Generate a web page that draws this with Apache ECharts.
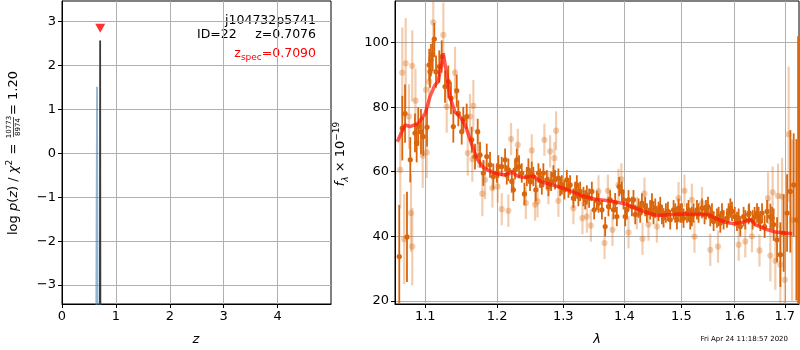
<!DOCTYPE html>
<html><head><meta charset="utf-8">
<script src="https://cdn.jsdelivr.net/npm/echarts@6/dist/echarts.min.js"></script>
<style>html,body{margin:0;padding:0;background:#fff}#c{width:800px;height:350px}</style>
</head><body><div id="c"></div>
<script>
// ---------- left panel: log p(z) ----------
const zTicks = [0, 1, 2, 3, 4];
const logpTicks = [-3, -2, -1, 0, 1, 2, 3];
const zBlue = [0.636, 0.650, 0.661];
const logpBlue = [-3.6, 1.52, -3.6];
const zBlack = [0.703, 0.7076, 0.712];
const logpBlack = [-3.6, 2.57, -3.6];
const zSpec = [0.709];
const zSpecMark = [2.85];

// ---------- right panel: spectrum ----------
const lamTicks = [1.1, 1.2, 1.3, 1.4, 1.5, 1.6, 1.7];
const fluxTicks = [20, 40, 60, 80, 100];

const lamDark = [1.0659,1.0759,1.0802,1.0698,1.0734,1.0864,1.0907,1.0943,1.0973,1.1023,1.0886,1.1053,1.1076,1.1099,1.1121,1.1063,1.1144,1.1188,1.1221,1.1266,1.1311,1.1348,1.1427,1.1380,1.1449,1.1496,1.1518,1.1566,1.1721,1.1636,1.1683,1.1754,1.1801,1.1850,1.1897,1.1945,
1.2018,1.2116,1.2164,1.2215,1.2238,1.2289,1.2323,1.2403,1.2463,1.2514,1.2575,1.2641,1.2691,1.2769,1.2846,1.2873,1.2924,1.2978,1.3057,1.3109,1.3161,1.3216,1.3269,1.3322,1.3377,1.3458,1.3496,
1.3567,1.3623,1.3677,1.3732,1.3815,1.3872,1.3911,1.3957,1.4013,1.4069,1.4127,1.4184,1.4241,1.4299,1.4386,1.4474,1.4532,1.4590,1.4650,1.4721,1.4798,1.4858,1.4919,1.4979,1.5039,1.5101,1.5161,1.5222,
1.5315,1.5378,1.5453,1.5533,1.5596,1.5660,1.5723,1.5786,1.5882,1.5947,1.6044,1.6109,1.6173,1.6272,1.6351,1.6438,1.6504,1.6590,1.6639,1.6705,1.6772,1.6841,1.6909,1.6977,1.7047,1.7115,1.7184,1.7240,1.7276,
1.1995,1.2067,1.2141,1.2263,1.2363,1.2439,1.2488,1.2538,1.2615,1.2667,1.2744,1.2810,1.2951,1.3019,1.3082,1.3189,1.3241,1.3350,1.3414,
1.3540,1.3760,1.3844,1.3984,1.4042,1.4154,1.4270,1.4357,1.4444,1.4502,1.4620,1.4679,1.4757,1.4888,1.4948,1.5010,1.5130,1.5191,
1.5285,1.5426,1.5490,1.5565,1.5691,1.5755,1.5851,1.5915,1.6000,1.6077,1.6206,1.6282,1.6390,1.6470,1.6538,1.6740];
const fluxDark = [33.7,39.8,63.7,73.5,78.0,72.0,74.0,72.4,70.9,73.8,68.9,93.1,94.6,96.2,101.1,91.0,91.0,92.6,95.7,86.4,87.9,82.8,85.1,74.0,78.1,72.4,76.1,77.1,72.4,69.9,64.7,65.2,59.6,64.7,62.1,58.5,
61.6,63.7,60.6,57.0,54.4,63.7,61.6,53.1,60.6,59.6,54.4,58.0,59.6,55.4,59.0,57.5,58.0,55.9,57.5,55.9,51.8,55.9,53.9,52.3,52.8,53.9,48.2,
50.3,48.2,43.0,49.2,48.2,46.1,55.4,53.9,46.1,51.3,49.2,46.7,48.7,50.3,47.2,50.3,48.7,47.7,46.7,47.2,45.1,48.2,45.1,47.2,45.6,47.2,45.1,47.2,
47.2,48.7,48.2,46.1,44.6,45.6,44.1,45.1,47.2,47.7,44.6,43.0,46.1,46.7,45.1,47.2,44.6,43.0,47.7,46.1,43.6,38.9,34.3,41.0,47.2,53.9,55.9,45.1,45.0,
59.6,61.6,59.0,60.6,59.6,58.5,57.0,58.5,59.6,55.9,57.5,57.0,55.4,54.4,54.9,53.9,52.3,51.3,51.8,
51.1,51.3,50.4,51.3,48.2,51.3,47.2,49.2,48.2,46.7,49.2,45.7,47.7,47.2,48.7,47.2,48.2,46.1,
48.2,46.7,49.2,47.2,46.1,47.2,45.6,48.7,46.1,45.6,45.1,47.2,46.1,46.1,47.2,45.6];
const errDark = [16,14,7,10,9,6,6,7,6,6,6,5,5,5,5,5,5,5,5,5,5,5,5,5,4,4,4,4,4,4,4,4,4,4,4,4,
3.5,3.5,3.5,3.5,3.5,3.5,3.5,3.5,3.5,3.5,3.5,3,3,3,3,3,3,3,3,3,3,3,3,3,3,3,3,
3,3,3,3,3,3,3,3,3,3,3,3,3,3,3,3,3,3,3,3,3,3,3,3,3,3,3,3,
3,3,3,3,3,3,3,3,3,3,3,3,3,3,3,3,3,3.5,3.5,4,5,7,10,12,12,19,16,25,57,
3,3,3,3,3,3,3,3,3,3,3,3,3,3,3,3,3,3,3,
3,3,3,3,3,3,3,3,3,3,3,3,3,3,3,3,3,3,
3,3,3,3,3,3,3,3,3,3,3,3,3,3,3,3.5];

const lamLight = [1.0742,1.0698,1.0828,1.0785,1.0811,1.0828,1.0723,1.0672,1.1019,1.1107,1.1243,1.1053,1.1009,1.1403,1.1289,1.1659,1.1612,1.1580,1.1645,1.1787,1.1825,1.1931,1.1730,1.0870,1.0966,
1.2204,1.2304,1.2514,1.2707,1.2795,1.2888,1.2862,1.2067,1.2164,1.2424,1.2564,1.2602,1.2924,1.3161,1.3306,1.3377,1.3442,1.2769,1.2009,
1.3666,1.3722,1.3899,1.3799,1.4069,1.4309,1.4213,1.4344,1.4561,1.4414,1.4948,1.5056,1.5191,1.5239,1.3567,1.3948,
1.5378,1.5533,1.5679,1.6077,1.6206,1.6487,1.6705,1.6807,1.6659,1.6751,1.6862,1.6944,1.7080,1.6337,1.6909,1.7000,1.7150];
const fluxLight = [93.6,90.7,92.8,77.1,47.2,36.8,39.1,60.6,66.0,106.3,102.4,87.9,85.4,90.7,80.1,80.4,77.1,65.8,63.9,53.2,57.5,54.9,67.3,82.0,65.0,
70.1,68.3,66.6,69.9,66.3,72.7,64.2,48.4,47.9,50.3,49.8,50.8,51.0,48.7,45.6,46.1,43.3,54.9,55.4,
37.9,54.1,55.9,42.0,41.2,39.2,47.2,53.2,43.0,43.6,51.8,54.1,51.3,39.9,53.9,57.6,
50.3,35.8,36.8,37.4,38.4,35.6,34.0,32.4,51.8,53.6,52.5,52.3,71.6,40.0,31.2,26.5,45.0];
const errLight = [14,14,11,10,12,12,14,12,8,10,10,8,8,8,8,8,7,7,7,7,6,6,6,10,10,
5,5,5,5,5,6,5,5,5,5,5,5,5,5,5,5,5,5,5,
5,5,5,5,5,5,5,5,5,5,5,5,5,5,5,5,
5,5,5,5,5,5,8,9,8,8,10,12,21,5,12,14,25];

const lamModel = [1.0633,1.0733,1.0798,1.0907,1.1000,1.1063,1.1130,1.1174,1.1242,1.1287,1.1332,1.1400,1.1492,1.1560,1.1628,1.1720,1.1811,1.1952,1.2116,1.2214,1.2313,1.2413,1.2538,1.2640,1.2821,1.3000,1.3189,1.3350,1.3512,1.3732,1.4000,1.4184,1.4414,1.4589,1.4829,1.5000,1.5246,1.5501,1.5627,1.5819,1.6000,1.6142,1.6306,1.6404,1.6605,1.6808,1.7000,1.7151];
const fluxModel = [69.3,74.5,74.0,75.0,78.1,83.3,86.9,87.9,96.7,90.5,83.3,78.6,76.6,73.5,68.9,63.7,61.1,59.6,59.0,59.9,58.5,58.2,58.7,57.0,55.9,54.9,53.4,52.3,51.5,51.0,50.1,48.7,47.2,46.4,46.7,46.9,46.7,46.7,45.6,44.3,43.9,44.3,45.1,43.6,42.2,41.3,41.0,40.8];

const FONT = 'DejaVu Sans';
const zip2 = (a, b) => a.map((v, i) => [v, b[i]]);
const zip3 = (a, b, c) => a.map((v, i) => [v, b[i], c[i]]);
const minusFmt = v => (v < 0 ? '\u2212' + Math.abs(v) : String(v));

function errRender(color, lw, r) {
  return function (params, api) {
    const x = api.value(0), y = api.value(1), e = api.value(2);
    const p0 = api.coord([x, y + e]), p1 = api.coord([x, y - e]), c = api.coord([x, y]);
    const cs = params.coordSys;
    const top = Math.max(p0[1], cs.y), bot = Math.min(p1[1], cs.y + cs.height);
    const children = [];
    if (bot > top) children.push({type: 'line', shape: {x1: c[0], y1: top, x2: c[0], y2: bot}, style: {stroke: color, lineWidth: lw}});
    if (c[1] >= cs.y && c[1] <= cs.y + cs.height) children.push({type: 'circle', shape: {cx: c[0], cy: c[1], r: r}, style: {fill: color}});
    return {type: 'group', children: children};
  };
}

function axisBase(ticks, fmt) {
  return {
    axisLine: {show: true, onZero: false, lineStyle: {color: '#000', width: 1}},
    axisTick: {show: true, inside: false, length: 4, customValues: ticks, lineStyle: {color: '#000'}},
    axisLabel: {color: '#000', fontSize: 13, fontFamily: FONT, margin: 6, customValues: ticks, formatter: fmt},
    splitLine: {show: true, lineStyle: {color: '#b0b0b0', width: 1}}
  };
}

const chart = echarts.init(document.getElementById('c'), null, {renderer: 'canvas'});
chart.setOption({
  animation: false,
  backgroundColor: '#fff',
  grid: [
    {left: 62, top: 1, width: 269, height: 303, show: true, borderColor: '#000', borderWidth: 1, backgroundColor: 'transparent'},
    {left: 395, top: 1, width: 404, height: 303, show: true, borderColor: '#000', borderWidth: 1, backgroundColor: 'transparent'}
  ],
  xAxis: [
    Object.assign({type: 'value', gridIndex: 0, min: 0, max: 4.99}, axisBase(zTicks, v => String(v))),
    Object.assign({type: 'log', gridIndex: 1, min: 1.0604, max: 1.7295}, axisBase(lamTicks, v => Number(v).toFixed(1)))
  ],
  yAxis: [
    Object.assign({type: 'value', gridIndex: 0, min: -3.43, max: 3.47}, axisBase(logpTicks, minusFmt)),
    Object.assign({type: 'value', gridIndex: 1, min: 19.0, max: 112.9}, axisBase(fluxTicks, v => String(v)))
  ],
  series: [
    {type: 'line', xAxisIndex: 0, yAxisIndex: 0, data: zip2(zBlue, logpBlue), symbol: 'none', lineStyle: {color: 'rgba(70,130,180,0.6)', width: 1.8}},
    {type: 'line', xAxisIndex: 0, yAxisIndex: 0, data: zip2(zBlack, logpBlack), symbol: 'none', lineStyle: {color: '#3a3a3a', width: 1.8}},
    {type: 'scatter', xAxisIndex: 0, yAxisIndex: 0, data: zip2(zSpec, zSpecMark), symbol: 'triangle', symbolRotate: 180, symbolSize: [10, 9], itemStyle: {color: '#ff0000'}},
    {type: 'custom', xAxisIndex: 1, yAxisIndex: 1, data: zip3(lamLight, fluxLight, errLight), renderItem: errRender('rgba(217,102,12,0.33)', 2.2, 3.1)},
    {type: 'custom', xAxisIndex: 1, yAxisIndex: 1, data: zip3(lamDark, fluxDark, errDark), renderItem: errRender('rgb(217,102,12)', 1.8, 2.6)},
    {type: 'line', xAxisIndex: 1, yAxisIndex: 1, data: zip2(lamModel, fluxModel), symbol: 'none', smooth: false, lineStyle: {color: 'rgba(255,20,10,0.7)', width: 3.5}}
  ],
  graphic: [
    {type: 'text', x: 316, y: 21, style: {text: 'j104732p5741', font: '12.5px "DejaVu Sans"', fill: '#000', align: 'right', verticalAlign: 'middle'}},
    {type: 'text', x: 197, y: 34.5, style: {text: 'ID=22', font: '12.5px "DejaVu Sans"', fill: '#000', verticalAlign: 'middle'}},
    {type: 'text', x: 316, y: 34.5, style: {text: 'z=0.7076', font: '12.5px "DejaVu Sans"', fill: '#000', align: 'right', verticalAlign: 'middle'}},
    {type: 'text', x: 316, y: 54, style: {text: '{a|z}{s|spec}{a|=0.7090}', align: 'right', verticalAlign: 'middle',
      rich: {a: {fontSize: 12.5, fontFamily: FONT, fill: '#ff0000', lineHeight: 16, verticalAlign: 'middle'},
             s: {fontSize: 9, fontFamily: FONT, fill: '#ff0000', lineHeight: 16, verticalAlign: 'bottom', padding: [4, 0, 0, 0]}}}},
    {type: 'group', x: 14, y: 235, rotation: Math.PI / 2, children: [
      {type: 'text', x: 0, y: 0, style: {text: '{n|log }{i|p}{n|(}{i|z}{n|) / }{i|χ}{sup|2}', verticalAlign: 'middle',
        rich: {n: {fontSize: 13, fontFamily: FONT, fill: '#000', lineHeight: 18, verticalAlign: 'middle'},
               i: {fontSize: 13, fontFamily: FONT, fontStyle: 'italic', fill: '#000', lineHeight: 18, verticalAlign: 'middle'},
               sup: {fontSize: 9, fontFamily: FONT, fill: '#000', lineHeight: 18, verticalAlign: 'top'}}}},
      {type: 'text', x: 86, y: 0, style: {text: '=', font: '13px "DejaVu Sans"', fill: '#000', align: 'center', verticalAlign: 'middle'}},
      {type: 'text', x: 108, y: -4.5, style: {text: '10773', font: '7px "DejaVu Sans"', fill: '#000', align: 'center', verticalAlign: 'middle'}},
      {type: 'line', shape: {x1: 98, y1: -0.5, x2: 118, y2: -0.5}, style: {stroke: '#000', lineWidth: 0.7}},
      {type: 'text', x: 108, y: 4, style: {text: '8974', font: '7px "DejaVu Sans"', fill: '#000', align: 'center', verticalAlign: 'middle'}},
      {type: 'text', x: 125.5, y: 0, style: {text: '=', font: '13px "DejaVu Sans"', fill: '#000', align: 'center', verticalAlign: 'middle'}},
      {type: 'text', x: 135, y: 0, style: {text: '1.20', font: '13px "DejaVu Sans"', fill: '#000', align: 'left', verticalAlign: 'middle'}}
    ]},
    {type: 'text', x: 341, y: 154, rotation: Math.PI / 2, style: {text: '{i|f}{sub|λ}{n| × 10}{sup|−19}', align: 'center', verticalAlign: 'middle',
      rich: {n: {fontSize: 13, fontFamily: FONT, fill: '#000', lineHeight: 18, verticalAlign: 'middle'},
             i: {fontSize: 13, fontFamily: FONT, fontStyle: 'italic', fill: '#000', lineHeight: 18, verticalAlign: 'middle'},
             sub: {fontSize: 9, fontFamily: FONT, fontStyle: 'italic', fill: '#000', lineHeight: 18, verticalAlign: 'bottom'},
             sup: {fontSize: 9, fontFamily: FONT, fill: '#000', lineHeight: 18, verticalAlign: 'top'}}}},
    {type: 'text', x: 196, y: 340, style: {text: 'z', font: 'italic 13px "DejaVu Sans"', fill: '#000', align: 'center', verticalAlign: 'middle'}},
    {type: 'text', x: 597, y: 340, style: {text: 'λ', font: 'italic 13px "DejaVu Sans"', fill: '#000', align: 'center', verticalAlign: 'middle'}},
    {type: 'text', x: 788, y: 339, style: {text: 'Fri Apr 24 11:18:57 2020', font: '7px "DejaVu Sans"', fill: '#000', align: 'right', verticalAlign: 'middle'}}
  ]
});
</script>
</body></html>
